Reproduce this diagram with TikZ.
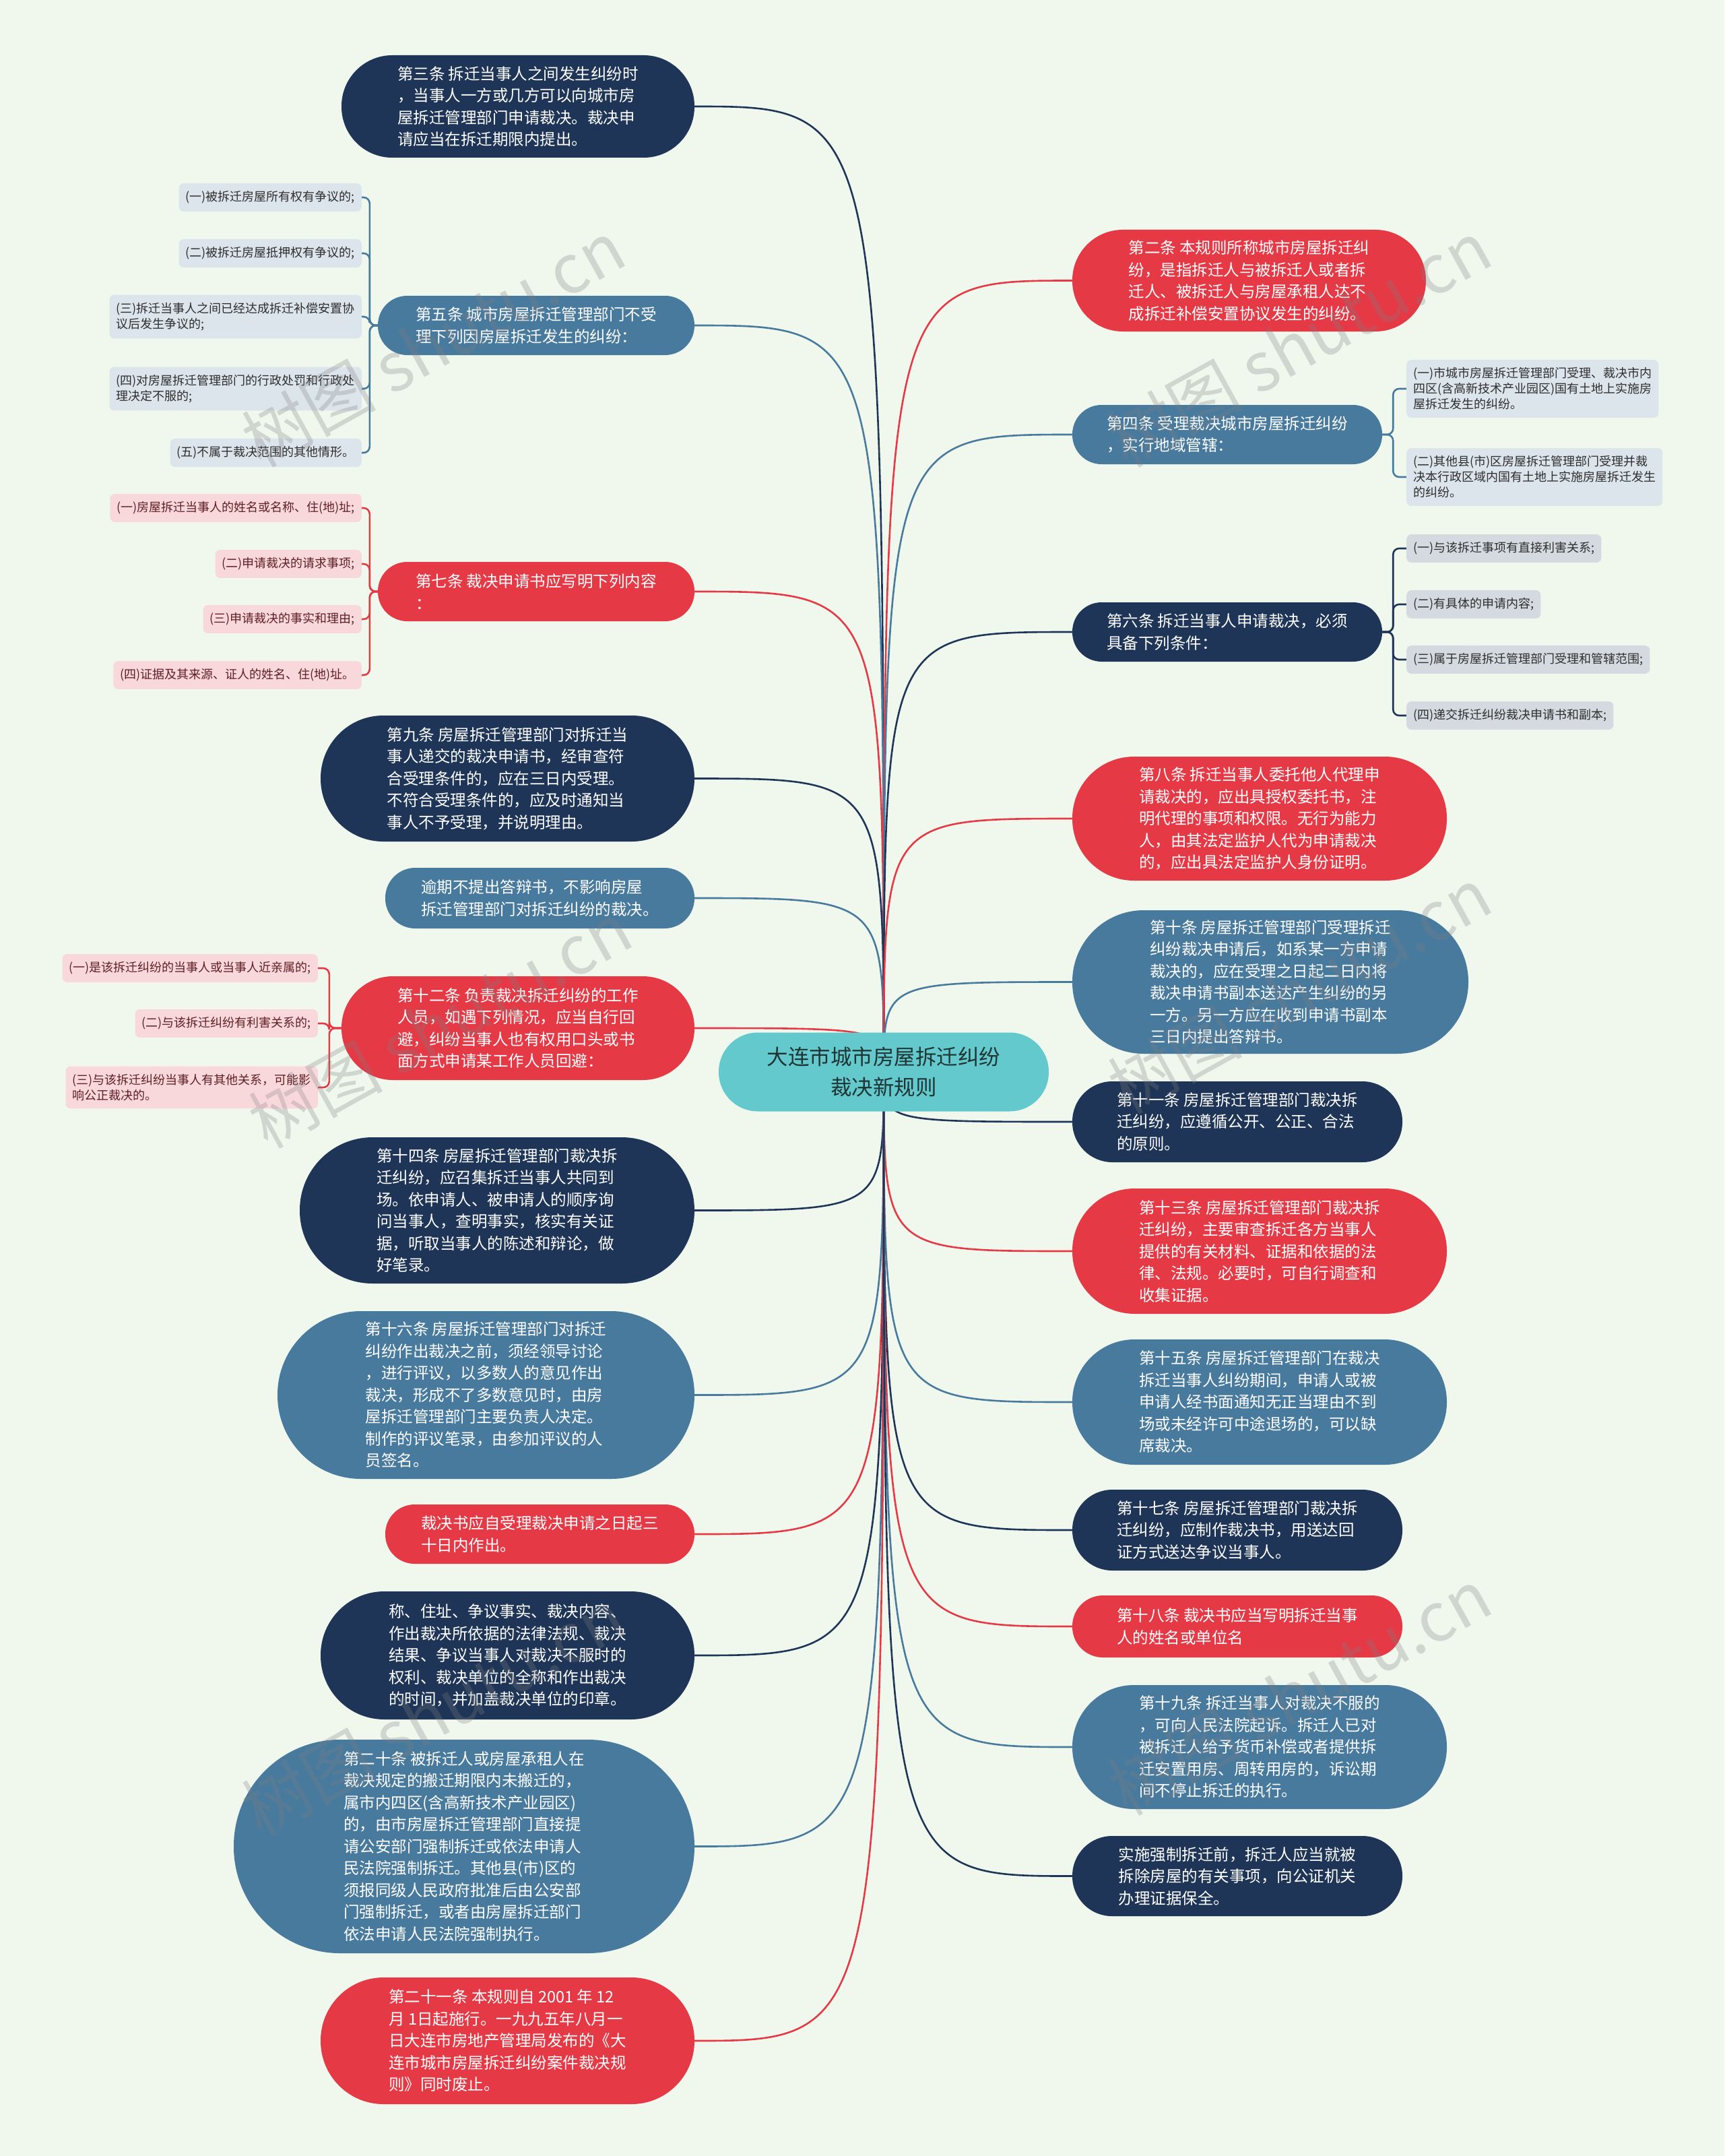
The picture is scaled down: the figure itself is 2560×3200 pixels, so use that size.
\documentclass[tikz,border=0pt]{standalone}
\usepackage{fontspec}
\setmainfont{Noto Sans CJK SC}
\definecolor{bgc}{HTML}{F0F8EE}
\definecolor{navy}{HTML}{1E3557}
\definecolor{steel}{HTML}{487A9E}
\definecolor{redc}{HTML}{E53946}
\definecolor{tealc}{HTML}{63C9CC}
\definecolor{ctext}{HTML}{1F3534}
\definecolor{leafblue}{HTML}{DCE4EC}
\definecolor{leafpink}{HTML}{F9D8DC}
\definecolor{leafgrey}{HTML}{D5DAE0}
\definecolor{leaftext}{HTML}{2E2E2E}
\definecolor{pinktext}{HTML}{5E1F24}
\pgfdeclarelayer{bg}
\pgfsetlayers{bg,main}
\tikzset{
  mainnode/.style={text=white, align=left, font=\fontsize{23.5}{32.5}\selectfont, inner sep=0pt},
  leafnode/.style={rounded corners=7pt, align=left, font=\fontsize{18}{23}\selectfont, inner xsep=10pt, inner ysep=11.5pt, minimum height=41pt},
  bleaf/.style={leafnode, fill=leafblue, text=leaftext},
  pleaf/.style={leafnode, fill=leafpink, text=pinktext},
  gleaf/.style={leafnode, fill=leafgrey, text=leaftext},
  conn/.style={line width=2.6pt},
  lconn/.style={line width=2.6pt, rounded corners=9pt},
  wmark/.style={text=gray, opacity=0.28, font=\fontsize{100}{100}\selectfont, rotate=29}
}
\newcommand\mnode[7]{%
  \pgfmathsetmacro\rr{#5/2-0.5}%
  \node[mainnode, fill=#6, minimum width=#4pt, minimum height=#5pt, rounded corners=\rr pt] (#1) at (#2,#3) {#7};}
\begin{document}
\begin{tikzpicture}[x=1pt,y=-1pt]
\begin{pgfonlayer}{bg}
\fill[bgc] (0,0) rectangle (2560,3200);
\end{pgfonlayer}
\useasboundingbox (0,0) rectangle (2560,3200);

% center
\node[fill=tealc, text=ctext, align=center, font=\fontsize{31.5}{45}\selectfont, minimum width=490pt, minimum height=117pt, rounded corners=58pt, inner sep=0pt] (C) at (1312,1591) {大连市城市房屋拆迁纠纷\\裁决新规则};

% left main nodes
\mnode{L1}{769}{158}{524}{152}{navy}{第三条 拆迁当事人之间发生纠纷时\\，当事人一方或几方可以向城市房\\屋拆迁管理部门申请裁决。裁决申\\请应当在拆迁期限内提出。}
\mnode{L2}{796}{483}{470}{88}{steel}{第五条 城市房屋拆迁管理部门不受\\理下列因房屋拆迁发生的纠纷：}
\mnode{L3}{796}{878}{470}{88}{redc}{第七条 裁决申请书应写明下列内容\\：}
\mnode{L4}{753.5}{1155.5}{555}{187}{navy}{第九条 房屋拆迁管理部门对拆迁当\\事人递交的裁决申请书，经审查符\\合受理条件的，应在三日内受理。\\不符合受理条件的，应及时通知当\\事人不予受理，并说明理由。}
\mnode{L5}{801.5}{1333}{459}{90}{steel}{逾期不提出答辩书，不影响房屋\\拆迁管理部门对拆迁纠纷的裁决。}
\mnode{L6}{769}{1526}{524}{154}{redc}{第十二条 负责裁决拆迁纠纷的工作\\人员，如遇下列情况，应当自行回\\避，纠纷当事人也有权用口头或书\\面方式申请某工作人员回避：}
\mnode{L7}{738}{1796.5}{586}{217}{navy}{第十四条 房屋拆迁管理部门裁决拆\\迁纠纷，应召集拆迁当事人共同到\\场。依申请人、被申请人的顺序询\\问当事人，查明事实，核实有关证\\据，听取当事人的陈述和辩论，做\\好笔录。}
\mnode{L8}{721.5}{2070.5}{619}{249}{steel}{第十六条 房屋拆迁管理部门对拆迁\\纠纷作出裁决之前，须经领导讨论\\，进行评议，以多数人的意见作出\\裁决，形成不了多数意见时，由房\\屋拆迁管理部门主要负责人决定。\\制作的评议笔录，由参加评议的人\\员签名。}
\mnode{L9}{801.5}{2277}{459}{88}{redc}{裁决书应自受理裁决申请之日起三\\十日内作出。}
\mnode{L10}{753.5}{2457}{555}{190}{navy}{称、住址、争议事实、裁决内容、\\作出裁决所依据的法律法规、裁决\\结果、争议当事人对裁决不服时的\\权利、裁决单位的全称和作出裁决\\的时间，并加盖裁决单位的印章。}
\mnode{L11}{689}{2740.5}{684}{317}{steel}{第二十条 被拆迁人或房屋承租人在\\裁决规定的搬迁期限内未搬迁的，\\属市内四区(含高新技术产业园区)\\的，由市房屋拆迁管理部门直接提\\请公安部门强制拆迁或依法申请人\\民法院强制拆迁。其他县(市)区的\\须报同级人民政府批准后由公安部\\门强制拆迁，或者由房屋拆迁部门\\依法申请人民法院强制执行。}
\mnode{L12}{753.5}{3029}{555}{188}{redc}{第二十一条 本规则自 2001 年 12\\月 1日起施行。一九九五年八月一\\日大连市房地产管理局发布的《大\\连市城市房屋拆迁纠纷案件裁决规\\则》同时废止。}

% right main nodes
\mnode{R1}{1854.5}{416.5}{525}{151}{redc}{第二条 本规则所称城市房屋拆迁纠\\纷，是指拆迁人与被拆迁人或者拆\\迁人、被拆迁人与房屋承租人达不\\成拆迁补偿安置协议发生的纠纷。}
\mnode{R2}{1822}{645}{460}{88}{steel}{第四条 受理裁决城市房屋拆迁纠纷\\，实行地域管辖：}
\mnode{R3}{1822}{938}{460}{88}{navy}{第六条 拆迁当事人申请裁决，必须\\具备下列条件：}
\mnode{R4}{1870}{1215}{556}{184}{redc}{第八条 拆迁当事人委托他人代理申\\请裁决的，应出具授权委托书，注\\明代理的事项和权限。无行为能力\\人，由其法定监护人代为申请裁决\\的，应出具法定监护人身份证明。}
\mnode{R5}{1886}{1457.5}{588}{213}{steel}{第十条 房屋拆迁管理部门受理拆迁\\纠纷裁决申请后，如系某一方申请\\裁决的，应在受理之日起二日内将\\裁决申请书副本送达产生纠纷的另\\一方。另一方应在收到申请书副本\\三日内提出答辩书。}
\mnode{R6}{1837}{1665}{490}{120}{navy}{第十一条 房屋拆迁管理部门裁决拆\\迁纠纷，应遵循公开、公正、合法\\的原则。}
\mnode{R7}{1870}{1857}{556}{186}{redc}{第十三条 房屋拆迁管理部门裁决拆\\迁纠纷，主要审查拆迁各方当事人\\提供的有关材料、证据和依据的法\\律、法规。必要时，可自行调查和\\收集证据。}
\mnode{R8}{1870}{2081}{556}{186}{steel}{第十五条 房屋拆迁管理部门在裁决\\拆迁当事人纠纷期间，申请人或被\\申请人经书面通知无正当理由不到\\场或未经许可中途退场的，可以缺\\席裁决。}
\mnode{R9}{1837}{2271}{490}{120}{navy}{第十七条 房屋拆迁管理部门裁决拆\\迁纠纷，应制作裁决书，用送达回\\证方式送达争议当事人。}
\mnode{R10}{1837}{2414}{490}{92}{redc}{第十八条 裁决书应当写明拆迁当事\\人的姓名或单位名}
\mnode{R11}{1870}{2593}{556}{184}{steel}{第十九条 拆迁当事人对裁决不服的\\，可向人民法院起诉。拆迁人已对\\被拆迁人给予货币补偿或者提供拆\\迁安置用房、周转用房的，诉讼期\\间不停止拆迁的执行。}
\mnode{R12}{1837}{2784.5}{490}{119}{navy}{实施强制拆迁前，拆迁人应当就被\\拆除房屋的有关事项，向公证机关\\办理证据保全。}

% leaves of L2 (第五条)
\node[bleaf, anchor=east] (a1) at (537,293) {(一)被拆迁房屋所有权有争议的;};
\node[bleaf, anchor=east] (a2) at (537,376) {(二)被拆迁房屋抵押权有争议的;};
\node[bleaf, anchor=east] (a3) at (537,470) {(三)拆迁当事人之间已经达成拆迁补偿安置协\\议后发生争议的;};
\node[bleaf, anchor=east] (a4) at (537,577) {(四)对房屋拆迁管理部门的行政处罚和行政处\\理决定不服的;};
\node[bleaf, anchor=east] (a5) at (537,672) {(五)不属于裁决范围的其他情形。};

% leaves of L3 (第七条)
\node[pleaf, anchor=east] (b1) at (537,754) {(一)房屋拆迁当事人的姓名或名称、住(地)址;};
\node[pleaf, anchor=east] (b2) at (537,837) {(二)申请裁决的请求事项;};
\node[pleaf, anchor=east] (b3) at (537,919) {(三)申请裁决的事实和理由;};
\node[pleaf, anchor=east] (b4) at (537,1002) {(四)证据及其来源、证人的姓名、住(地)址。};

% leaves of L6 (第十二条)
\node[pleaf, anchor=east] (c1) at (472,1437) {(一)是该拆迁纠纷的当事人或当事人近亲属的;};
\node[pleaf, anchor=east] (c2) at (472,1519) {(二)与该拆迁纠纷有利害关系的;};
\node[pleaf, anchor=east] (c3) at (472,1614) {(三)与该拆迁纠纷当事人有其他关系，可能影\\响公正裁决的。};

% leaves of R2 (第四条)
\node[bleaf, anchor=west] (d1) at (2088,577) {(一)市城市房屋拆迁管理部门受理、裁决市内\\四区(含高新技术产业园区)国有土地上实施房\\屋拆迁发生的纠纷。};
\node[bleaf, anchor=west] (d2) at (2088,708) {(二)其他县(市)区房屋拆迁管理部门受理并裁\\决本行政区域内国有土地上实施房屋拆迁发生\\的纠纷。};

% leaves of R3 (第六条)
\node[gleaf, anchor=west] (e1) at (2088,814) {(一)与该拆迁事项有直接利害关系;};
\node[gleaf, anchor=west] (e2) at (2088,897) {(二)有具体的申请内容;};
\node[gleaf, anchor=west] (e3) at (2088,979) {(三)属于房屋拆迁管理部门受理和管辖范围;};
\node[gleaf, anchor=west] (e4) at (2088,1062) {(四)递交拆迁纠纷裁决申请书和副本;};

\begin{pgfonlayer}{bg}
\foreach \n/\c in {L1/navy,L2/steel,L3/redc,L4/navy,L5/steel,L6/redc,L7/navy,L8/steel,L9/redc,L10/navy,L11/steel,L12/redc}
  \draw[conn,\c] (C.center) .. controls (C.center |- \n.east) .. (\n.east);
\foreach \n/\c in {R1/redc,R2/steel,R3/navy,R4/redc,R5/steel,R6/navy,R7/redc,R8/steel,R9/navy,R10/redc,R11/steel,R12/navy}
  \draw[conn,\c] (C.center) .. controls (C.center |- \n.west) .. (\n.west);
\foreach \n in {a1,a2,a3,a4,a5}
  \draw[lconn,steel] (L2.west) -- ++(-12,0) |- (\n.east);
\foreach \n in {b1,b2,b3,b4}
  \draw[lconn,redc] (L3.west) -- ++(-12,0) |- (\n.east);
\foreach \n in {c1,c2,c3}
  \draw[lconn,redc] (L6.west) -- ++(-18,0) |- (\n.east);
\foreach \n in {d1,d2}
  \draw[lconn,steel] (R2.east) -- ++(16,0) |- (\n.west);
\foreach \n in {e1,e2,e3,e4}
  \draw[lconn,navy] (R3.east) -- ++(16,0) |- (\n.west);
\end{pgfonlayer}

% watermarks
\node[wmark] (w1) at (643,510) {树图 shutu.cn};
\node[wmark] (w2) at (653,1521) {树图 shutu.cn};
\node[wmark] (w3) at (643,2542) {树图 shutu.cn};
\node[wmark] (w4) at (1929,510) {树图 shutu.cn};
\node[wmark] (w5) at (1929,1470) {树图 shutu.cn};
\node[wmark] (w6) at (1929,2511) {树图 shutu.cn};
\end{tikzpicture}
\end{document}
